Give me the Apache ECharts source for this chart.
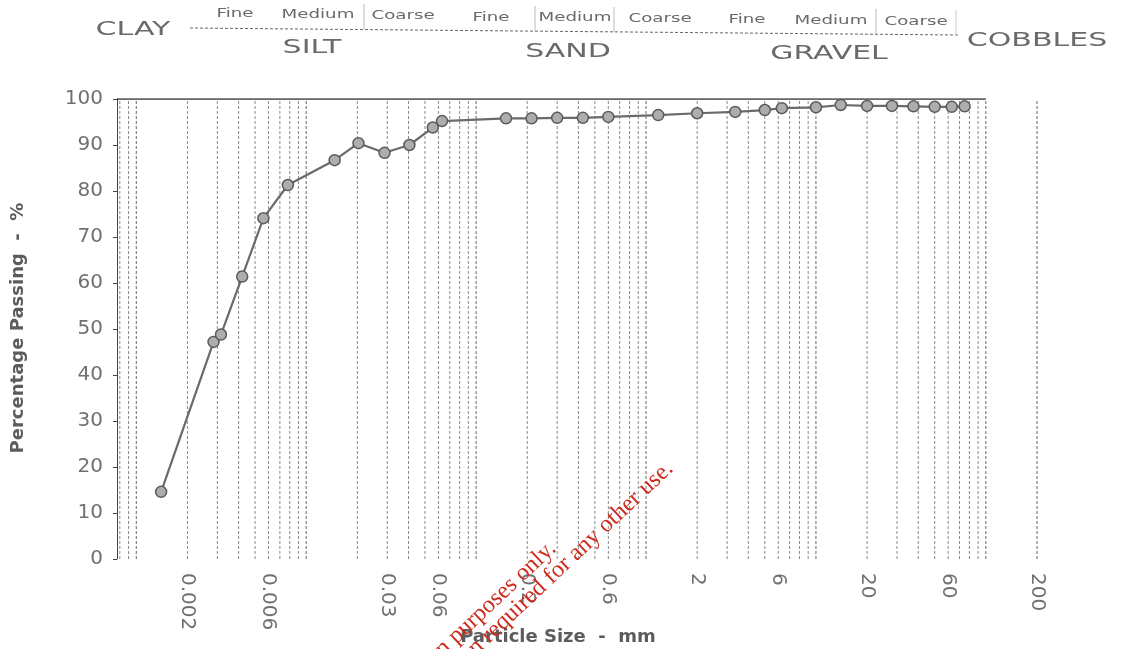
<!DOCTYPE html>
<html>
<head>
<meta charset="utf-8">
<script src="https://cdn.jsdelivr.net/npm/echarts@6/dist/echarts.min.js"></script>
<style>
    html, body { margin: 0; padding: 0; background: #fff; }
    #chart { width: 1129px; height: 649px; }
</style>
</head>
<body>
<div id="chart"></div>
<script>
// particle sizes (mm) and percentage passing
var sizes = [0.0014, 0.00285, 0.00315, 0.0042, 0.0056, 0.0078, 0.0147, 0.0203, 0.0289, 0.0405, 0.0556, 0.063,
    0.15, 0.212, 0.3, 0.425, 0.6, 1.18, 2, 3.35, 5, 6.3, 10, 14, 20, 28, 37.5, 50, 63, 75];
var passing = [14.6, 47.2, 48.8, 61.4, 74.1, 81.3, 86.7, 90.4, 88.3, 90.0, 93.8, 95.2,
    95.8, 95.8, 95.9, 95.9, 96.1, 96.5, 96.9, 97.2, 97.6, 98.0, 98.2, 98.7, 98.5, 98.5, 98.4, 98.3, 98.3, 98.4];

var xTicks = [0.002, 0.006, 0.03, 0.06, 0.2, 0.6, 2, 6, 20, 60, 200];
var xTickLabels = ['0.002', '0.006', '0.03', '0.06', '0.2', '0.6', '2', '6', '20', '60', '200'];

var xMin = 0.00077, xMax = 200;

// log paper grid: 1..9 x each decade
var gridValues = [];
[0.0001, 0.001, 0.01, 0.1, 1, 10, 100].forEach(function (dec) {
    for (var m = 1; m <= 9; m++) {
        var v = +(dec * m).toPrecision(3);
        if (v >= 0.0008 && v <= 200) gridValues.push(v);
    }
});

var chart = echarts.init(document.getElementById('chart'));
var grey = '#5c5c5c';
var sans = '"DejaVu Sans", sans-serif';

function txt(x, y, s, size, sx) {
    return {
        type: 'text', x: x, y: y, scaleX: sx, originX: 0, originY: 0,
        style: { text: s, font: size + 'px ' + sans, fill: '#6a6a6a', align: 'center', verticalAlign: 'middle' }
    };
}
function ln(x1, y1, x2, y2, color, dash) {
    return { type: 'line', shape: { x1: x1, y1: y1, x2: x2, y2: y2 },
        style: { stroke: color, lineWidth: 1, lineDash: dash || null } };
}

var header = [
    txt(133, 30, 'CLAY', 20, 1.5),
    ln(190, 28, 958, 35, '#666', [3, 2]),
    txt(235, 14, 'Fine', 13, 1.4), txt(318, 15, 'Medium', 13, 1.4), txt(403, 16, 'Coarse', 13, 1.4),
    txt(491, 18, 'Fine', 13, 1.4), txt(575, 18, 'Medium', 13, 1.4), txt(660, 19, 'Coarse', 13, 1.4),
    txt(747, 20, 'Fine', 13, 1.4), txt(831, 21, 'Medium', 13, 1.4), txt(916, 22, 'Coarse', 13, 1.4),
    ln(364, 4, 364, 29, '#bbb'), ln(535, 6, 535, 31, '#bbb'), ln(614, 7, 614, 32, '#bbb'),
    ln(876, 9, 876, 34, '#bbb'), ln(956, 10, 956, 36, '#ccc'),
    txt(312, 48, 'SILT', 20, 1.5), txt(568, 52, 'SAND', 20, 1.5), txt(829, 54, 'GRAVEL', 20, 1.5),
    txt(1037, 41, 'COBBLES', 20, 1.5),
    { type: 'text', x: 18, y: 328, rotation: Math.PI / 2,
        style: { text: 'Percentage Passing  -  %', font: 'bold 18px ' + sans, fill: grey, align: 'center', verticalAlign: 'middle' } },
    { type: 'text', x: 558, y: 637,
        style: { text: 'Particle Size  -  mm', font: 'bold 18px ' + sans, fill: grey, align: 'center', verticalAlign: 'middle' } },
    { type: 'text', x: 561, y: 554, rotation: Math.PI / 4 * 0.96, z: 100,
        style: { text: 'For information purposes only.', font: '24px "Liberation Serif", serif', fill: '#cc2b1d', align: 'right', verticalAlign: 'bottom' } },
    { type: 'text', x: 678, y: 474, rotation: Math.PI / 4 * 0.96, z: 100,
        style: { text: 'Permission required for any other use.', font: '24px "Liberation Serif", serif', fill: '#cc2b1d', align: 'right', verticalAlign: 'bottom' } }
];

var option = {
    backgroundColor: '#fff',
    animation: false,
    grid: { left: 117, right: 92, top: 99, bottom: 90 },
    xAxis: {
        type: 'log',
        logBase: 10,
        min: xMin,
        max: xMax,
        axisLine: { show: false },
        axisTick: { show: false },
        splitLine: { show: false },
        axisLabel: {
            customValues: xTicks,
            rotate: -90,
            margin: 14,
            padding: [8, 0, 0, 0],
            fontSize: 20,
            fontFamily: sans,
            color: '#707070',
            formatter: function (v) {
                var i = xTicks.findIndex(function (t) { return Math.abs(Math.log10(t / v)) < 1e-6; });
                return i >= 0 ? xTickLabels[i] : '';
            }
        }
    },
    yAxis: {
        type: 'value',
        min: 0,
        max: 100,
        interval: 10,
        axisLine: { show: true, lineStyle: { color: '#444', width: 1 } },
        axisTick: { show: true, length: 4, lineStyle: { color: '#444' } },
        splitLine: { show: false },
        axisLabel: { fontSize: 20, fontFamily: sans, color: '#707070', margin: 14 }
    },
    graphic: header,
    series: [
        {
            // vertical log-paper grid lines
            type: 'custom',
            silent: true,
            data: gridValues.map(function (v) { return [v, 0]; }),
            renderItem: function (params, api) {
                var v = api.value(0);
                var p1 = api.coord([v, 0]);
                var p2 = api.coord([v, 100]);
                var major = [0.001, 0.01, 0.1, 1, 10, 100, 200].indexOf(v) >= 0;
                return {
                    type: 'line',
                    shape: { x1: p1[0], y1: p1[1], x2: p2[0], y2: p2[1] },
                    style: { stroke: major ? '#666' : '#8a8a8a', lineWidth: 1, lineDash: [3, 2] }
                };
            },
            z: 1
        },
        {
            // top border of the chart paper
            type: 'line',
            silent: true,
            symbol: 'none',
            data: [[xMin, 100], [100, 100]],
            lineStyle: { color: '#333', width: 1.5 },
            z: 2
        },
        {
            type: 'line',
            data: sizes.map(function (s, i) { return [s, passing[i]]; }),
            symbol: 'circle',
            symbolSize: 11,
            lineStyle: { color: '#6a6a6a', width: 2.2 },
            itemStyle: { color: '#adadad', borderColor: '#5b5b5b', borderWidth: 1.5 },
            z: 5
        }
    ]
};

chart.setOption(option);
</script>
</body>
</html>
